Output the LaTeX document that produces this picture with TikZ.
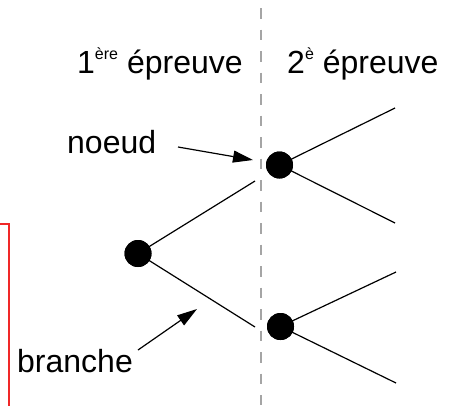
\documentclass[tikz,border=0pt]{standalone}
\usepackage{fontspec}
\setmainfont{Liberation Sans}
\usetikzlibrary{arrows.meta}
\newcommand\expo[1]{\raisebox{14pt}{\fontsize{16}{17}\selectfont #1}}
\begin{document}
\begin{tikzpicture}[x=1pt,y=-1pt,
  dot/.style={circle,fill=black,minimum size=27pt,inner sep=0pt},
  lbl/.style={anchor=base west,inner sep=0pt,font=\fontsize{32}{36}\selectfont},
  br/.style={line width=1.2pt,black},
  pointer/.style={line width=1.2pt,-{Triangle[length=20pt,width=12pt]}},
  sep/.style={color={rgb,255:red,165;green,165;blue,165}, line width=1.6pt, dash pattern=on 10.5pt off 11pt, dash phase=13.5pt},
  frame/.style={color={rgb,255:red,240;green,40;blue,40}, line width=1.4pt}]
\useasboundingbox (0,0) rectangle (454,405);
% separator
\coordinate (dtop) at (261,0);
\coordinate (dbot) at (261,405);
\draw[sep] (dtop) -- (dbot);
% red frame
\coordinate (fa) at (-1,224);
\coordinate (fb) at (9,224);
\coordinate (fc) at (9,406);
\draw[frame] (fa) -- (fb) -- (fc);
% labels
\node[lbl] (t1) at (77,73) {1\expo{ère} épreuve};
\node[lbl] (t2) at (287,73) {2\expo{è} épreuve};
\node[lbl] (n) at (67,153) {noeud};
\node[lbl] (b) at (17,372) {branche};
% tree
\node[dot] (r) at (138,253.5) {};
\node[dot] (u) at (279.5,165) {};
\node[dot] (l) at (280.5,326.5) {};
\coordinate (ru) at (255,181);
\coordinate (rl) at (255,327);
\coordinate (uu) at (395,108);
\coordinate (ul) at (395,223);
\coordinate (lu) at (396,272);
\coordinate (ll) at (396,383);
\draw[br] (r.center) -- (ru);
\draw[br] (r.center) -- (rl);
\draw[br] (u.center) -- (uu);
\draw[br] (u.center) -- (ul);
\draw[br] (l.center) -- (lu);
\draw[br] (l.center) -- (ll);
% pointers
\coordinate (na) at (178,147);
\coordinate (nb) at (253,160);
\coordinate (ba) at (138,350);
\coordinate (bb) at (197,309);
\draw[pointer] (na) -- (nb);
\draw[pointer] (ba) -- (bb);
% redraw dots on top
\node[dot] at (r) {};
\node[dot] at (u) {};
\node[dot] at (l) {};
\end{tikzpicture}
\end{document}
